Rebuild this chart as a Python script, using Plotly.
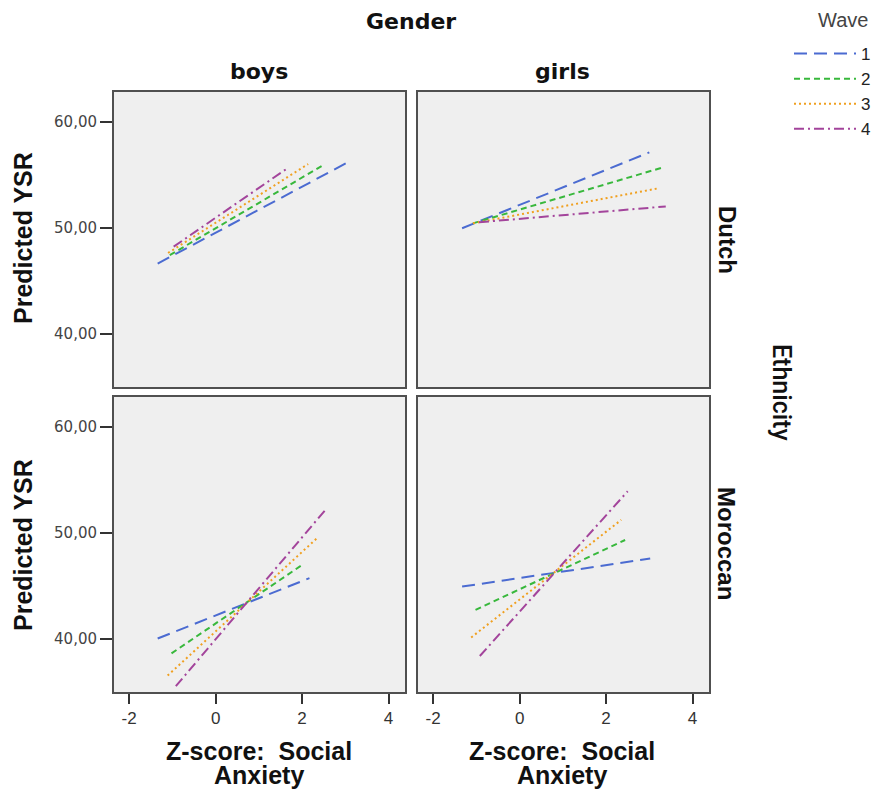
import plotly.graph_objects as go

# page body adds an 8px margin, so the figure is drawn 8px smaller and coordinates are shifted
OFF = 8
W, H = 880 - OFF, 793 - OFF

waves = ["1", "2", "3", "4"]
colors = ["#4b6bd1", "#38b83c", "#f0a020", "#a3449b"]
dashes = ["13px,7px", "6px,4px", "2px,3px", "10px,4px,2px,4px"]

# Panel (gender, ethnicity): start/end of each wave's fitted line
boys_dutch_x0 = [-1.34, -1.06, -1.10, -0.97]
boys_dutch_x1 = [3.03, 2.45, 2.14, 1.66]
boys_dutch_y0 = [46.6, 47.4, 47.6, 48.2]
boys_dutch_y1 = [56.1, 55.8, 56.0, 55.6]

girls_dutch_x0 = [-1.33, -1.08, -1.08, -0.94]
girls_dutch_x1 = [3.00, 3.33, 3.20, 3.38]
girls_dutch_y0 = [49.94, 50.4, 50.4, 50.5]
girls_dutch_y1 = [57.1, 55.7, 53.7, 52.0]

boys_mor_x0 = [-1.34, -1.02, -1.11, -0.92]
boys_mor_x1 = [2.17, 2.02, 2.38, 2.53]
boys_mor_y0 = [40.0, 38.6, 36.5, 35.5]
boys_mor_y1 = [45.7, 47.0, 49.6, 52.1]

girls_mor_x0 = [-1.33, -1.02, -1.12, -0.92]
girls_mor_x1 = [3.02, 2.44, 2.35, 2.50]
girls_mor_y0 = [44.9, 42.7, 40.1, 38.35]
girls_mor_y1 = [47.55, 49.3, 51.2, 53.9]

x_ticks = [-2, 0, 2, 4]
x_ticktext = ["-2", "0", "2", "4"]
y_ticks = [40, 50, 60]
y_ticktext = ["40,00", "50,00", "60,00"]

panels = [
    ("x", "y", boys_dutch_x0, boys_dutch_x1, boys_dutch_y0, boys_dutch_y1),
    ("x2", "y2", girls_dutch_x0, girls_dutch_x1, girls_dutch_y0, girls_dutch_y1),
    ("x3", "y3", boys_mor_x0, boys_mor_x1, boys_mor_y0, boys_mor_y1),
    ("x4", "y4", girls_mor_x0, girls_mor_x1, girls_mor_y0, girls_mor_y1),
]

fig = go.Figure()
for pi, (xa, ya, x0, x1, y0, y1) in enumerate(panels):
    for i, w in enumerate(waves):
        fig.add_trace(go.Scatter(
            x=[x0[i], x1[i]], y=[y0[i], y1[i]], mode="lines",
            xaxis=xa, yaxis=ya, name=w, legendgroup=w, showlegend=(pi == 0),
            line=dict(color=colors[i], width=2, dash=dashes[i]),
            hoverinfo="skip"))

def fx(px):
    return (px - OFF) / W

def fy(py):
    return 1 - (py - OFF) / H

xdom_l = [fx(114), fx(405)]
xdom_r = [fx(418), fx(709)]
ydom_t = [fy(387), fy(92)]
ydom_b = [fy(692), fy(397)]

XR = [-2.35, 4.38]
YR = [34.95, 62.8]

frame = dict(showline=True, linecolor="#505050", linewidth=2, mirror=True,
             showgrid=False, zeroline=False, fixedrange=True)

tickfont_x = dict(family="Liberation Sans, Arial, sans-serif", size=17, color="#333333")
tickfont_y = dict(family="DejaVu Sans, sans-serif", size=15, color="#444444")

def xax(dom, anchor, show):
    d = dict(domain=dom, range=XR, anchor=anchor, **frame)
    if show:
        d.update(tickvals=x_ticks, ticktext=x_ticktext, ticks="outside", ticklen=10,
                 tickwidth=2, tickcolor="#333333", tickfont=tickfont_x, showticklabels=True)
    else:
        d.update(showticklabels=False, ticks="")
    return d

def yax(dom, anchor, show):
    d = dict(domain=dom, range=YR, anchor=anchor, **frame)
    if show:
        d.update(tickvals=y_ticks, ticktext=y_ticktext, ticks="outside", ticklen=12,
                 tickwidth=2, tickcolor="#333333", tickfont=tickfont_y, showticklabels=True)
    else:
        d.update(showticklabels=False, ticks="")
    return d

bg = "#efefef"
fig.update_layout(
    width=W, height=H, margin=dict(l=0, r=0, t=0, b=0),
    paper_bgcolor="white", plot_bgcolor=bg,
    xaxis=xax(xdom_l, "y", False),
    yaxis=yax(ydom_t, "x", True),
    xaxis2=xax(xdom_r, "y2", False),
    yaxis2=yax(ydom_t, "x2", False),
    xaxis3=xax(xdom_l, "y3", True),
    yaxis3=yax(ydom_b, "x3", True),
    xaxis4=xax(xdom_r, "y4", True),
    yaxis4=yax(ydom_b, "x4", False),
    showlegend=True,
    legend=dict(x=fx(789), y=fy(36), xanchor="left", yanchor="top",
                font=dict(family="Liberation Sans, Arial, sans-serif", size=17, color="#222222"),
                bgcolor="rgba(0,0,0,0)", itemwidth=62, tracegroupgap=0),
)

ann = []
def A(text, px, py, size, family, bold=True, angle=0, color="#111111", xanchor="center", weight=None):
    f = dict(family=family, size=size, color=color)
    if weight is not None:
        f["weight"] = weight
    elif bold:
        f["weight"] = "bold"
    ann.append(dict(text=text, x=fx(px), y=fy(py), xref="paper", yref="paper",
                    showarrow=False, textangle=angle, font=f, xanchor=xanchor, yanchor="middle"))

dj = "DejaVu Sans, sans-serif"
lib = "Liberation Sans, Arial, sans-serif"
A("Gender", 411, 22, 22, dj)
A("boys", 259, 72, 22, dj)
A("girls", 562, 72, 22, dj)
A("Predicted YSR", 23, 238, 25, lib, angle=-90)
A("Predicted YSR", 23, 545, 25, lib, angle=-90)
A("Dutch", 727, 240, 24, lib, angle=90)
A("Moroccan", 727, 543, 24, lib, angle=90)
A("Ethnicity", 782, 392, 25, "Roboto, sans-serif", angle=90, weight=500)
for cx in [259, 562]:
    A("Z-score:\u00a0 Social", cx, 751, 25, lib)
    A("Anxiety", cx, 775, 25, lib)
A("Wave", 870, 20, 20, lib, bold=False, color="#444444", xanchor="right")

fig.update_layout(annotations=ann)
fig.write_html("out.html")
